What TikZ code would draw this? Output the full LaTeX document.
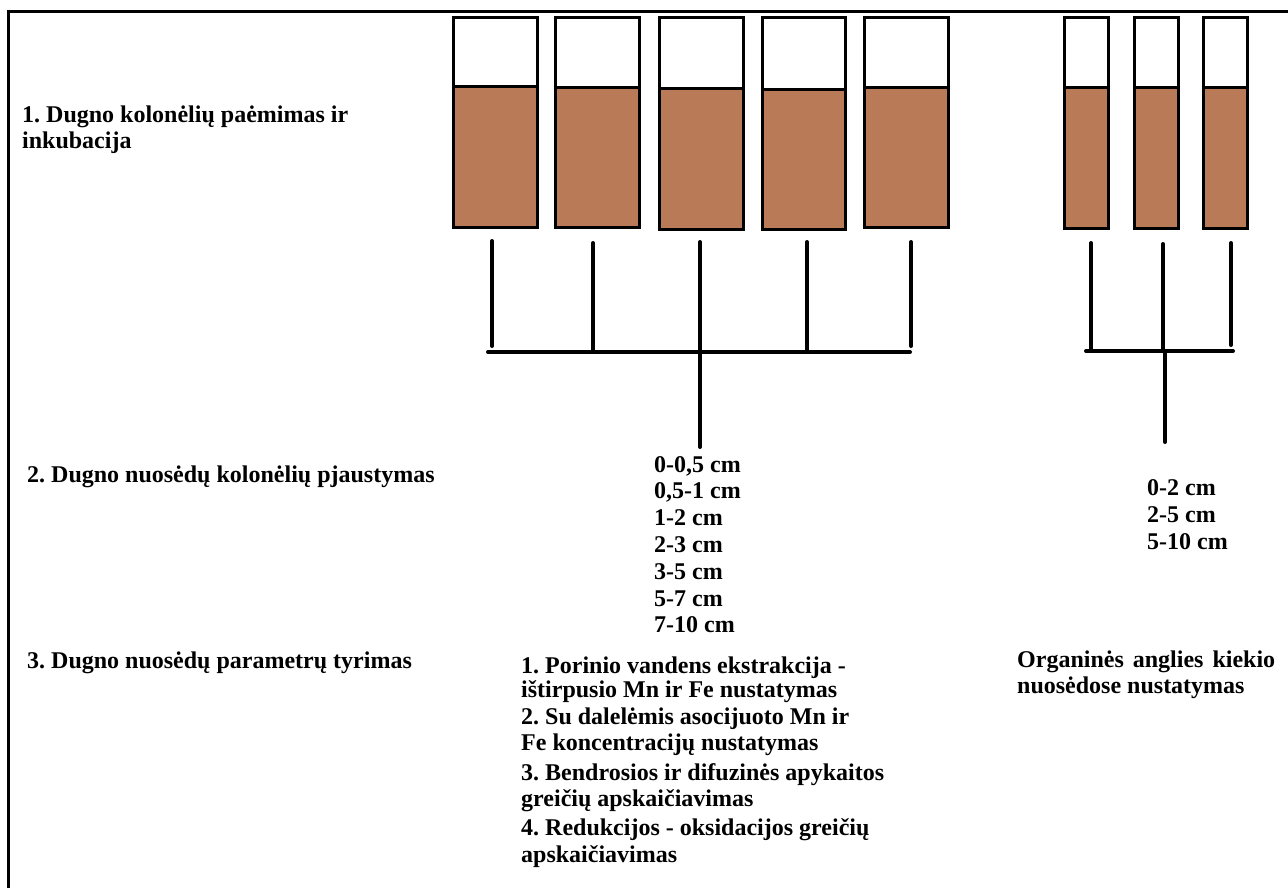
\documentclass[tikz,border=0pt]{standalone}
\usepackage{fontspec}
\setmainfont{Liberation Serif}
\frenchspacing
\definecolor{sed}{RGB}{185,122,87}
\begin{document}
\begin{tikzpicture}[x=1pt,y=-1pt,
  txt/.style={anchor=base west,inner sep=0pt,font=\fontsize{24}{27}\selectfont\bfseries},
  tube/.style={draw=black,line width=3pt,fill=white},
  mud/.style={draw=black,line width=3pt,fill=sed},
  conn/.style={line width=4pt,line cap=round}]
\useasboundingbox (0,0) rectangle (1288,888);
% frame
\draw[line width=3pt] (8,890) -- (8,12) -- (1290,12);
% columns: x1 x2 divider bottom
\foreach \a/\b/\d/\e in {453/537/87/227, 555/639/88/227, 659/743/89/229, 762/845/90/229, 864/948/88/227,
  1064/1108/88/228, 1134/1178/88/228, 1203/1247/88/228}{
  \draw[tube] (\a,18) rectangle (\b,\d);
  \draw[mud] (\a,\d) rectangle (\b,\e);
}
% left group connectors
\coordinate (t1) at (492,241); \coordinate (b1) at (492,346);
\coordinate (t2) at (593,243); \coordinate (b2) at (593,351);
\coordinate (t3) at (700,242); \coordinate (s3) at (700,447);
\coordinate (t4) at (807,242); \coordinate (b4) at (807,351);
\coordinate (t5) at (911,242); \coordinate (b5) at (911,346);
\coordinate (hl) at (488,352); \coordinate (hr) at (910,352);
\foreach \p/\q in {t1/b1,t2/b2,t3/s3,t4/b4,t5/b5,hl/hr}{\draw[conn] (\p) -- (\q);}
% right group connectors
\coordinate (u1) at (1091,243); \coordinate (v1) at (1091,350);
\coordinate (u2) at (1163,244); \coordinate (v2) at (1163,350);
\coordinate (u3) at (1231,243); \coordinate (v3) at (1231,345);
\coordinate (gl) at (1086,351); \coordinate (gr) at (1233,351);
\coordinate (w1) at (1165,351); \coordinate (w2) at (1165,442);
\foreach \p/\q in {u1/v1,u2/v2,u3/v3,gl/gr,w1/w2}{\draw[conn] (\p) -- (\q);}
% left labels
\node[txt] (l1a) at (22,123) {1. Dugno kolonėlių paėmimas ir};
\node[txt] (l1b) at (22,149) {inkubacija};
\node[txt] (l2) at (27,482) {2. Dugno nuosėdų kolonėlių pjaustymas};
\node[txt] (l3) at (27,668) {3. Dugno nuosėdų parametrų tyrimas};
% depth list
\foreach \t [count=\i from 0] in {{0-0,5 cm},{0,5-1 cm},{1-2 cm},{2-3 cm},{3-5 cm},{5-7 cm},{7-10 cm}}{
  \node[txt] (d\i) at (654,{472+26.8*\i}) {\t};
}
\node[txt] (r0) at (1147,495) {0-2 cm};
\node[txt] (r1) at (1147,522) {2-5 cm};
\node[txt] (r2) at (1147,549) {5-10 cm};
% parameter list
\node[txt] (p1) at (521,673) {1. Porinio vandens ekstrakcija -};
\node[txt] (p2) at (521,697) {ištirpusio Mn ir Fe nustatymas};
\node[txt] (p3) at (521,724) {2. Su dalelėmis asocijuoto Mn ir};
\node[txt] (p4) at (521,750) {Fe koncentracijų nustatymas};
\node[txt] (p5) at (521,780) {3. Bendrosios ir difuzinės apykaitos};
\node[txt] (p6) at (521,806) {greičių apskaičiavimas};
\node[txt] (p7) at (521,835) {4. Redukcijos - oksidacijos greičių};
\node[txt] (p8) at (521,862) {apskaičiavimas};
\node[txt] (o1) at (1017,667) {\makebox[258pt][s]{Organinės anglies kiekio}};
\node[txt] (o2) at (1017,693) {nuosėdose nustatymas};
\end{tikzpicture}
\end{document}
